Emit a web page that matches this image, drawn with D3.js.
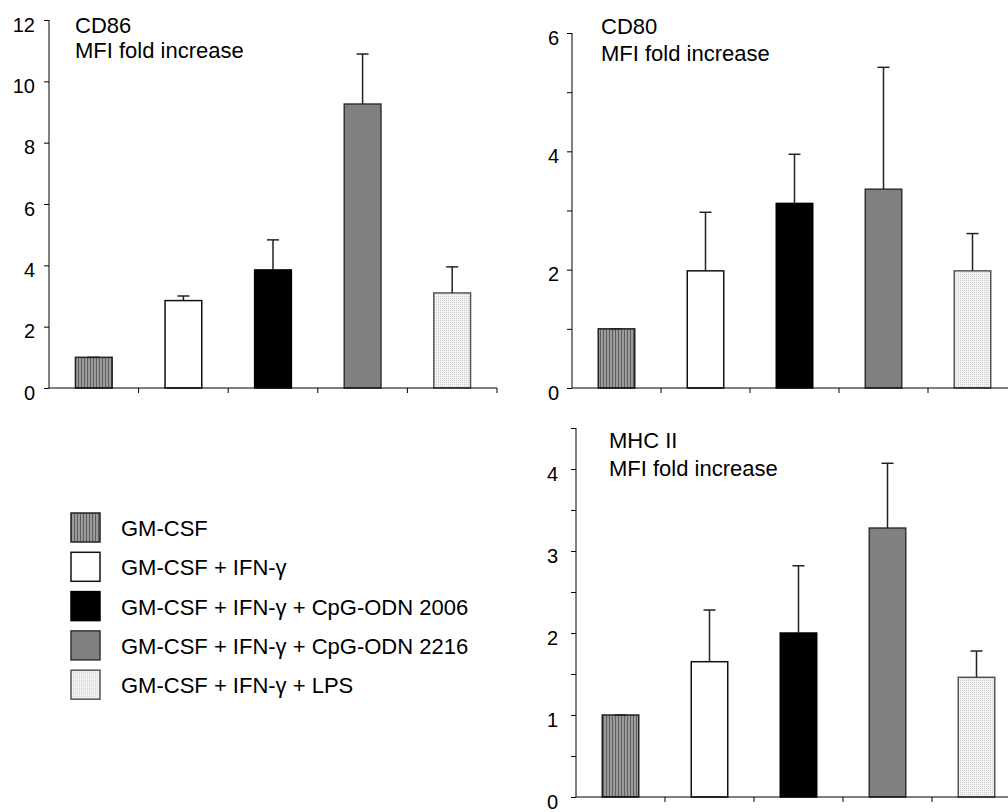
<!DOCTYPE html>
<html>
<head>
<meta charset="utf-8">
<script src="https://cdn.jsdelivr.net/npm/d3@7"></script>
<style>
  body { margin: 0; background: #fff; }
  svg { display: block; font-family: "Liberation Sans", Arial, sans-serif; }
</style>
</head>
<body>
<div id="chart"></div>
<script>
// data
const groups = ["GM-CSF", "GM-CSF + IFN-γ", "GM-CSF + IFN-γ + CpG-ODN 2006",
                "GM-CSF + IFN-γ + CpG-ODN 2216", "GM-CSF + IFN-γ + LPS"];

const cd86Mean = [1.0, 2.85, 3.85, 9.26, 3.1];
const cd86Err  = [0, 0.15, 0.98, 1.63, 0.85];

const cd80Mean = [1.0, 1.98, 3.12, 3.36, 1.98];
const cd80Err  = [0, 0.99, 0.83, 2.06, 0.63];

const mhcMean = [1.0, 1.65, 2.0, 3.28, 1.46];
const mhcErr  = [0, 0.63, 0.82, 0.79, 0.32];

const cd86Ticks = [0, 2, 4, 6, 8, 10, 12];
const cd80Ticks = [0, 1, 2, 3, 4, 5, 6];
const mhcTicks  = [0, 0.5, 1, 1.5, 2, 2.5, 3, 3.5, 4, 4.5];

const svg = d3.select("#chart")
  .append("svg")
    .attr("width", 1008)
    .attr("height", 812);

// fill patterns
const defs = svg.append("defs");
const stripes = defs.append("pattern")
    .attr("id", "stripes")
    .attr("patternUnits", "userSpaceOnUse")
    .attr("width", 3).attr("height", 3);
stripes.append("rect").attr("width", 3).attr("height", 3).attr("fill", "#9a9a9a");
stripes.append("rect").attr("width", 1).attr("height", 3).attr("fill", "#5e5e5e");

const dots = defs.append("pattern")
    .attr("id", "dots")
    .attr("patternUnits", "userSpaceOnUse")
    .attr("width", 2).attr("height", 2);
dots.append("rect").attr("width", 2).attr("height", 2).attr("fill", "#f2f2f2");
dots.append("rect").attr("width", 1).attr("height", 1).attr("fill", "#cfcfcf");

const fills   = ["url(#stripes)", "#ffffff", "#000000", "#808080", "url(#dots)"];
const strokes = ["#222", "#111", "#000", "#333", "#555"];

function drawPanel(p) {
  const g = svg.append("g");

  const x = d3.scaleBand()
    .domain(groups)
    .range([p.x0, p.x1])
    .padding(0);

  const y = d3.scaleLinear()
    .domain(p.domain)
    .range([p.yBottom, p.yTop]);

  const barW = x.bandwidth() * 0.41;

  // bars
  g.selectAll("rect.bar")
    .data(p.mean)
    .enter()
    .append("rect")
      .attr("class", "bar")
      .attr("x", (d, i) => x(groups[i]) + (x.bandwidth() - barW) / 2)
      .attr("y", d => y(d))
      .attr("width", barW)
      .attr("height", d => y(0) - y(d))
      .attr("fill", (d, i) => fills[i])
      .attr("stroke", (d, i) => strokes[i])
      .attr("stroke-width", 1.5);

  // error bars (upper only)
  const cx = i => x(groups[i]) + x.bandwidth() / 2;
  g.selectAll("line.err")
    .data(p.mean)
    .enter()
    .append("line")
      .attr("x1", (d, i) => cx(i))
      .attr("x2", (d, i) => cx(i))
      .attr("y1", d => y(d))
      .attr("y2", (d, i) => y(d + p.err[i]))
      .attr("stroke", "#222")
      .attr("stroke-width", 1.5);
  g.selectAll("line.cap")
    .data(p.mean)
    .enter()
    .append("line")
      .attr("x1", (d, i) => cx(i) - 6)
      .attr("x2", (d, i) => cx(i) + 6)
      .attr("y1", (d, i) => y(d + p.err[i]))
      .attr("y2", (d, i) => y(d + p.err[i]))
      .attr("stroke", "#222")
      .attr("stroke-width", 1.5);

  // y axis
  const yAxis = g.append("g")
    .attr("transform", `translate(${p.x0},0)`)
    .call(d3.axisLeft(y)
      .tickValues(p.ticks)
      .tickSize(5)
      .tickPadding(p.pad)
      .tickFormat(d => p.labels.includes(d) ? d : ""));
  yAxis.select(".domain").attr("d", `M0,${p.yTop}V${p.yBottom}`);
  yAxis.selectAll("text")
    .attr("font-size", 20)
    .attr("font-family", "Liberation Sans, Arial, sans-serif")
    .attr("fill", "#000")
    .attr("dy", "0.55em");

  // x axis: ticks on category boundaries
  const bounds = groups.map(d => x(d) + x.bandwidth());
  g.append("line")
    .attr("x1", p.x0).attr("x2", p.x1)
    .attr("y1", y(0)).attr("y2", y(0))
    .attr("stroke", "#000");
  g.selectAll("line.xt")
    .data(bounds)
    .enter()
    .append("line")
      .attr("x1", d => d).attr("x2", d => d)
      .attr("y1", y(0)).attr("y2", y(0) + 5)
      .attr("stroke", "#000");

  // title
  g.append("text")
    .attr("x", p.tx).attr("y", p.ty)
    .attr("font-size", 22)
    .text(p.title);
  g.append("text")
    .attr("x", p.tx).attr("y", p.ty + p.lead)
    .attr("font-size", 22)
    .text("MFI fold increase");
}

drawPanel({ mean: cd86Mean, err: cd86Err, domain: [0, 12], ticks: cd86Ticks,
            labels: [0, 2, 4, 6, 8, 10, 12], x0: 49, x1: 497, yTop: 20, yBottom: 388,
            pad: 9, title: "CD86", tx: 75, ty: 33, lead: 25 });

drawPanel({ mean: cd80Mean, err: cd80Err, domain: [0, 6], ticks: cd80Ticks,
            labels: [0, 2, 4, 6], x0: 572, x1: 1017, yTop: 33, yBottom: 388,
            pad: 8, title: "CD80", tx: 601, ty: 34, lead: 27 });

drawPanel({ mean: mhcMean, err: mhcErr, domain: [0, 4.5], ticks: mhcTicks,
            labels: [0, 1, 2, 3, 4], x0: 576, x1: 1021, yTop: 428, yBottom: 797,
            pad: 13, title: "MHC II", tx: 609, ty: 448, lead: 28 });

// legend
const legend = svg.append("g").attr("transform", "translate(71,513)");
const row = legend.selectAll("g")
  .data(groups)
  .enter()
  .append("g")
    .attr("transform", (d, i) => `translate(0,${i * 39.3})`);
row.append("rect")
  .attr("width", 29).attr("height", 29)
  .attr("fill", (d, i) => fills[i])
  .attr("stroke", (d, i) => strokes[i])
  .attr("stroke-width", 1.5);
row.append("text")
  .attr("x", 50).attr("y", 23)
  .attr("font-size", 22)
  .text(d => d);
</script>
</body>
</html>
